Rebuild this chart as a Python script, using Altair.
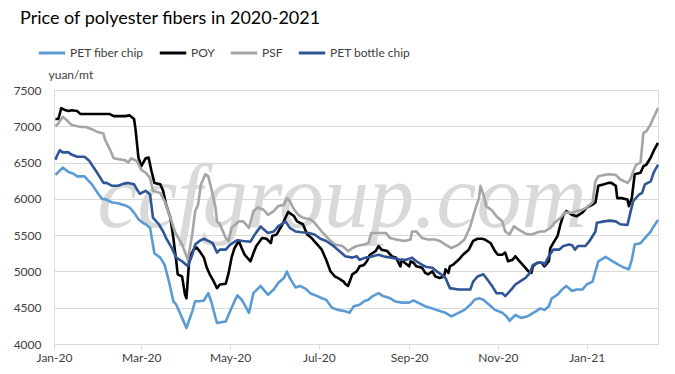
import altair as alt
import pandas as pd

# ---------------- data ----------------
series_names = ["PET fiber chip", "POY", "PSF", "PET bottle chip"]
series_colors = ["#5B9BD5", "#000000", "#A5A5A5", "#2F5597"]

fiber_dates = ["2020-01-02", "2020-01-04", "2020-01-07", "2020-01-11", "2020-01-14", "2020-01-17", "2020-01-22", "2020-01-27", "2020-01-31", "2020-02-03",
               "2020-02-06", "2020-02-10", "2020-02-14", "2020-02-19", "2020-02-22", "2020-02-25", "2020-02-28", "2020-03-02", "2020-03-04", "2020-03-07",
               "2020-03-10", "2020-03-14", "2020-03-17", "2020-03-20", "2020-03-23", "2020-03-25", "2020-03-29", "2020-04-01", "2020-04-05", "2020-04-07",
               "2020-04-10", "2020-04-13", "2020-04-16", "2020-04-18", "2020-04-21", "2020-04-22", "2020-04-28", "2020-05-01", "2020-05-04", "2020-05-06",
               "2020-05-09", "2020-05-11", "2020-05-14", "2020-05-17", "2020-05-22", "2020-05-24", "2020-05-27", "2020-05-31", "2020-06-03", "2020-06-07",
               "2020-06-09", "2020-06-11", "2020-06-15", "2020-06-18", "2020-06-22", "2020-06-25", "2020-06-30", "2020-07-03", "2020-07-06", "2020-07-10",
               "2020-07-14", "2020-07-19", "2020-07-22", "2020-07-25", "2020-07-29", "2020-08-01", "2020-08-04", "2020-08-07", "2020-08-11", "2020-08-14",
               "2020-08-19", "2020-08-22", "2020-08-27", "2020-09-01", "2020-09-04", "2020-09-07", "2020-09-12", "2020-09-17", "2020-09-21", "2020-09-26",
               "2020-09-30", "2020-10-05", "2020-10-09", "2020-10-13", "2020-10-16", "2020-10-19", "2020-10-22", "2020-10-26", "2020-10-30", "2020-11-04",
               "2020-11-07", "2020-11-09", "2020-11-13", "2020-11-17", "2020-11-21", "2020-11-23", "2020-11-27", "2020-11-30", "2020-12-03", "2020-12-06",
               "2020-12-08", "2020-12-12", "2020-12-15", "2020-12-18", "2020-12-22", "2020-12-25", "2020-12-29", "2021-01-01", "2021-01-05", "2021-01-07",
               "2021-01-09", "2021-01-14", "2021-01-18", "2021-01-23", "2021-01-27", "2021-01-30", "2021-02-01", "2021-02-03", "2021-02-07", "2021-02-10",
               "2021-02-14", "2021-02-16", "2021-02-19"]
fiber_values = [6330, 6370, 6430, 6370, 6350, 6310, 6310, 6200, 6080, 6000,
                5990, 5950, 5940, 5910, 5880, 5810, 5720, 5670, 5650, 5600,
                5250, 5190, 5090, 4860, 4590, 4540, 4360, 4220, 4450, 4590,
                4590, 4600, 4700, 4590, 4360, 4290, 4310, 4450, 4590, 4670,
                4610, 4540, 4430, 4700, 4800, 4750, 4680, 4750, 4840, 4910,
                5000, 4910, 4780, 4800, 4760, 4700, 4660, 4630, 4610, 4500,
                4470, 4450, 4430, 4520, 4540, 4590, 4610, 4660, 4700, 4660,
                4630, 4590, 4570, 4570, 4600, 4570, 4520, 4490, 4460, 4430,
                4380, 4430, 4470, 4540, 4610, 4630, 4610, 4540, 4470, 4430,
                4380, 4320, 4400, 4360, 4380, 4400, 4450, 4490, 4470, 4520,
                4630, 4680, 4750, 4800, 4730, 4750, 4750, 4820, 4860, 5000,
                5140, 5200, 5150, 5090, 5050, 5030, 5160, 5370, 5390, 5460,
                5550, 5620, 5710]

poy_dates = ["2020-01-02", "2020-01-04", "2020-01-06", "2020-01-09", "2020-01-11", "2020-01-13", "2020-01-17", "2020-01-19", "2020-02-08", "2020-02-11",
             "2020-02-19", "2020-02-22", "2020-02-25", "2020-02-26", "2020-02-28", "2020-03-01", "2020-03-04", "2020-03-06", "2020-03-08", "2020-03-10",
             "2020-03-14", "2020-03-16", "2020-03-18", "2020-03-21", "2020-03-23", "2020-03-25", "2020-03-26", "2020-03-29", "2020-03-31", "2020-04-01",
             "2020-04-02", "2020-04-03", "2020-04-06", "2020-04-08", "2020-04-10", "2020-04-13", "2020-04-15", "2020-04-17", "2020-04-19", "2020-04-22",
             "2020-04-24", "2020-04-28", "2020-04-30", "2020-05-02", "2020-05-04", "2020-05-07", "2020-05-09", "2020-05-11", "2020-05-15", "2020-05-17",
             "2020-05-19", "2020-05-23", "2020-05-26", "2020-05-29", "2020-05-30", "2020-06-02", "2020-06-06", "2020-06-08", "2020-06-10", "2020-06-14",
             "2020-06-16", "2020-06-20", "2020-06-23", "2020-06-26", "2020-06-30", "2020-07-03", "2020-07-06", "2020-07-09", "2020-07-12", "2020-07-14",
             "2020-07-18", "2020-07-19", "2020-07-21", "2020-07-24", "2020-07-27", "2020-07-29", "2020-08-01", "2020-08-03", "2020-08-05", "2020-08-09",
             "2020-08-11", "2020-08-13", "2020-08-17", "2020-08-20", "2020-08-23", "2020-08-26", "2020-08-27", "2020-08-29", "2020-09-01", "2020-09-02",
             "2020-09-04", "2020-09-06", "2020-09-10", "2020-09-12", "2020-09-14", "2020-09-17", "2020-09-19", "2020-09-22", "2020-09-25", "2020-09-26",
             "2020-09-28", "2020-09-29", "2020-10-01", "2020-10-05", "2020-10-08", "2020-10-12", "2020-10-15", "2020-10-18", "2020-10-21", "2020-10-23",
             "2020-10-27", "2020-10-30", "2020-11-01", "2020-11-04", "2020-11-06", "2020-11-08", "2020-11-11", "2020-11-13", "2020-11-15", "2020-11-19",
             "2020-11-22", "2020-11-24", "2020-11-25", "2020-11-28", "2020-12-01", "2020-12-03", "2020-12-06", "2020-12-07", "2020-12-09", "2020-12-12",
             "2020-12-14", "2020-12-16", "2020-12-18", "2020-12-22", "2020-12-25", "2020-12-29", "2021-01-01", "2021-01-05", "2021-01-07", "2021-01-09",
             "2021-01-13", "2021-01-16", "2021-01-18", "2021-01-21", "2021-01-22", "2021-01-25", "2021-01-29", "2021-01-30", "2021-02-01", "2021-02-03",
             "2021-02-07", "2021-02-09", "2021-02-11", "2021-02-14", "2021-02-16", "2021-02-19"]
poy_values = [7100, 7100, 7250, 7220, 7210, 7220, 7210, 7170, 7170, 7140,
              7140, 7150, 7100, 6960, 6570, 6450, 6560, 6570, 6380, 6220,
              6200, 6110, 5920, 5740, 5460, 5140, 4960, 4930, 4680, 4630,
              4910, 5190, 5300, 5330, 5280, 5190, 5050, 4960, 4890, 4770,
              4820, 4830, 4980, 5190, 5320, 5420, 5320, 5230, 5140, 5250,
              5350, 5460, 5450, 5390, 5490, 5510, 5650, 5740, 5820, 5760,
              5690, 5650, 5510, 5460, 5370, 5300, 5160, 5000, 4930, 4910,
              4860, 4830, 4800, 4960, 5000, 5070, 5090, 5140, 5230, 5280,
              5350, 5300, 5280, 5210, 5190, 5070, 5160, 5120, 5070, 5140,
              5120, 5070, 5050, 4980, 4960, 5000, 4930, 4910, 4930, 5030,
              4980, 5070, 5090, 5160, 5230, 5300, 5420, 5450, 5450, 5440,
              5390, 5280, 5230, 5230, 5260, 5140, 5160, 5210, 5160, 5070,
              5000, 4980, 5070, 5120, 5120, 5070, 5140, 5320, 5390, 5490,
              5650, 5780, 5830, 5780, 5760, 5810, 5880, 5920, 5950, 6180,
              6200, 6220, 6220, 6180, 6010, 6010, 5990, 5900, 6010, 6340,
              6360, 6450, 6470, 6570, 6660, 6770]

psf_dates = ["2020-01-02", "2020-01-04", "2020-01-07", "2020-01-10", "2020-01-13", "2020-01-17", "2020-01-20", "2020-01-23", "2020-01-27", "2020-01-31",
             "2020-02-04", "2020-02-05", "2020-02-08", "2020-02-11", "2020-02-19", "2020-02-21", "2020-02-23", "2020-02-27", "2020-03-01", "2020-03-04",
             "2020-03-07", "2020-03-09", "2020-03-14", "2020-03-17", "2020-03-21", "2020-03-24", "2020-03-29", "2020-04-02", "2020-04-05", "2020-04-07",
             "2020-04-09", "2020-04-11", "2020-04-14", "2020-04-16", "2020-04-18", "2020-04-21", "2020-04-22", "2020-04-24", "2020-04-28", "2020-04-30",
             "2020-05-02", "2020-05-07", "2020-05-10", "2020-05-14", "2020-05-17", "2020-05-20", "2020-05-24", "2020-05-27", "2020-05-31", "2020-06-03",
             "2020-06-07", "2020-06-09", "2020-06-11", "2020-06-14", "2020-06-17", "2020-06-20", "2020-06-25", "2020-06-28", "2020-07-03", "2020-07-08",
             "2020-07-12", "2020-07-17", "2020-07-19", "2020-07-21", "2020-07-24", "2020-07-27", "2020-08-01", "2020-08-04", "2020-08-06", "2020-08-11",
             "2020-08-16", "2020-08-19", "2020-08-23", "2020-08-29", "2020-09-02", "2020-09-03", "2020-09-06", "2020-09-10", "2020-09-14", "2020-09-19",
             "2020-09-22", "2020-09-26", "2020-09-30", "2020-10-05", "2020-10-09", "2020-10-13", "2020-10-16", "2020-10-19", "2020-10-20", "2020-10-22",
             "2020-10-24", "2020-10-28", "2020-10-31", "2020-11-04", "2020-11-06", "2020-11-09", "2020-11-12", "2020-11-15", "2020-11-20", "2020-11-24",
             "2020-11-27", "2020-11-30", "2020-12-03", "2020-12-07", "2020-12-10", "2020-12-14", "2020-12-17", "2020-12-22", "2020-12-25", "2020-12-29",
             "2021-01-01", "2021-01-05", "2021-01-07", "2021-01-09", "2021-01-13", "2021-01-16", "2021-01-21", "2021-01-24", "2021-01-29", "2021-01-31",
             "2021-02-02", "2021-02-04", "2021-02-07", "2021-02-09", "2021-02-11", "2021-02-14", "2021-02-16", "2021-02-19"]
psf_values = [7000, 7040, 7130, 7080, 7020, 7000, 6990, 6990, 6960, 6920,
              6900, 6820, 6700, 6560, 6530, 6500, 6560, 6520, 6400, 6360,
              6290, 6110, 6080, 5970, 5740, 5550, 5370, 5160, 5510, 5830,
              5920, 6200, 6340, 6310, 6150, 5880, 5690, 5650, 5460, 5420,
              5600, 5690, 5690, 5600, 5830, 5880, 5850, 5780, 5830, 5900,
              5920, 6010, 5970, 5850, 5780, 5740, 5720, 5670, 5550, 5440,
              5370, 5350, 5320, 5280, 5320, 5350, 5370, 5390, 5530, 5530,
              5530, 5460, 5440, 5420, 5440, 5550, 5550, 5460, 5440, 5440,
              5420, 5370, 5320, 5370, 5440, 5620, 5830, 6010, 6180, 6060,
              5900, 5840, 5760, 5690, 5550, 5510, 5620, 5580, 5520, 5510,
              5530, 5550, 5550, 5600, 5670, 5740, 5810, 5810, 5830, 5850,
              5880, 5950, 6240, 6310, 6330, 6340, 6330, 6270, 6220, 6270,
              6380, 6470, 6500, 6910, 6930, 7030, 7120, 7250]

bottle_dates = ["2020-01-02", "2020-01-03", "2020-01-05", "2020-01-07", "2020-01-11", "2020-01-13", "2020-01-17", "2020-01-22", "2020-01-25", "2020-01-28",
                "2020-01-31", "2020-02-04", "2020-02-06", "2020-02-10", "2020-02-14", "2020-02-18", "2020-02-21", "2020-02-25", "2020-02-27", "2020-02-29",
                "2020-03-04", "2020-03-07", "2020-03-09", "2020-03-13", "2020-03-16", "2020-03-18", "2020-03-22", "2020-03-25", "2020-03-29", "2020-04-02",
                "2020-04-05", "2020-04-07", "2020-04-10", "2020-04-13", "2020-04-16", "2020-04-19", "2020-04-22", "2020-04-24", "2020-04-28", "2020-05-01",
                "2020-05-06", "2020-05-10", "2020-05-15", "2020-05-18", "2020-05-22", "2020-05-24", "2020-05-27", "2020-05-31", "2020-06-03", "2020-06-06",
                "2020-06-08", "2020-06-11", "2020-06-15", "2020-06-19", "2020-06-24", "2020-06-28", "2020-07-02", "2020-07-06", "2020-07-11", "2020-07-14",
                "2020-07-18", "2020-07-19", "2020-07-24", "2020-07-27", "2020-07-29", "2020-08-02", "2020-08-05", "2020-08-11", "2020-08-16", "2020-08-20",
                "2020-08-26", "2020-08-30", "2020-09-03", "2020-09-06", "2020-09-10", "2020-09-13", "2020-09-17", "2020-09-20", "2020-09-23", "2020-09-26",
                "2020-09-29", "2020-10-05", "2020-10-13", "2020-10-15", "2020-10-18", "2020-10-22", "2020-10-24", "2020-10-28", "2020-10-31", "2020-11-04",
                "2020-11-06", "2020-11-08", "2020-11-11", "2020-11-13", "2020-11-16", "2020-11-20", "2020-11-23", "2020-11-25", "2020-11-29", "2020-12-02",
                "2020-12-03", "2020-12-06", "2020-12-09", "2020-12-13", "2020-12-16", "2020-12-20", "2020-12-22", "2020-12-24", "2020-12-26", "2020-12-31",
                "2021-01-03", "2021-01-07", "2021-01-08", "2021-01-13", "2021-01-17", "2021-01-21", "2021-01-24", "2021-01-29", "2021-01-31", "2021-02-02",
                "2021-02-06", "2021-02-08", "2021-02-10", "2021-02-14", "2021-02-16", "2021-02-19"]
bottle_values = [6540, 6590, 6670, 6640, 6640, 6610, 6580, 6580, 6530, 6440,
                 6350, 6220, 6220, 6180, 6180, 6210, 6220, 6200, 6130, 6070,
                 6110, 6060, 5740, 5650, 5550, 5460, 5320, 5190, 5140, 5070,
                 5230, 5370, 5420, 5450, 5420, 5390, 5260, 5300, 5300, 5370,
                 5430, 5420, 5410, 5510, 5620, 5580, 5530, 5550, 5620, 5660,
                 5690, 5600, 5550, 5540, 5530, 5510, 5450, 5420, 5350, 5300,
                 5230, 5210, 5190, 5210, 5160, 5190, 5200, 5230, 5200, 5190,
                 5160, 5160, 5190, 5140, 5090, 5060, 5050, 5000, 4960, 4910,
                 4770, 4750, 4750, 4860, 4930, 4960, 4910, 4800, 4700, 4700,
                 4660, 4700, 4770, 4820, 4860, 4910, 4980, 5090, 5120, 5120,
                 5090, 5210, 5300, 5300, 5350, 5370, 5360, 5300, 5350, 5350,
                 5420, 5550, 5670, 5690, 5700, 5690, 5650, 5640, 5810, 5970,
                 6060, 6080, 6200, 6240, 6360, 6470]

y_ticks = [4000, 4500, 5000, 5500, 6000, 6500, 7000, 7500]
x_tick_months = [(2020, 1), (2020, 3), (2020, 5), (2020, 7), (2020, 9), (2020, 11), (2021, 1)]

title_text = "Price of polyester fibers in 2020-2021"
unit_text = "yuan/mt"
watermark_text = "ccfgroup.com"

# ---------------- build table ----------------
frames = []
for i, (name, d, v) in enumerate(zip(series_names,
                                     [fiber_dates, poy_dates, psf_dates, bottle_dates],
                                     [fiber_values, poy_values, psf_values, bottle_values])):
    frames.append(pd.DataFrame({"date": d, "price": v, "series": name, "k": i}))
df = pd.concat(frames, ignore_index=True)

FONT = "Lato"
TXT = "#404040"

x_values = [alt.DateTime(year=y, month=m, date=1, utc=True) for y, m in x_tick_months]
x_scale = alt.Scale(type="utc",
                    domain=[alt.DateTime(year=2020, month=1, date=1, utc=True),
                            alt.DateTime(year=2021, month=2, date=19, utc=True)])
y_scale = alt.Scale(domain=[4000, 7500], nice=False, zero=False)

lines = alt.Chart(df).mark_line(strokeWidth=2.6, strokeJoin="round").encode(
    x=alt.X("date:T", scale=x_scale,
            axis=alt.Axis(values=x_values, format="%b-%y", title=None, grid=False,
                          domainColor="#d9d9d9", tickColor="#d9d9d9", tickSize=5,
                          labelPadding=3, labelFont=FONT, labelFontSize=12,
                          labelColor=TXT, labelFlush=False, labelOverlap=False)),
    y=alt.Y("price:Q", scale=y_scale,
            axis=alt.Axis(values=y_ticks, format="d", grid=True, gridColor="#d9d9d9", domain=False,
                          ticks=False, labelPadding=13, labelFont=FONT, labelFontSize=12,
                          labelColor=TXT, title=unit_text, titleAngle=0,
                          titleAlign="left", titleBaseline="alphabetic", titleX=-6, titleY=-12,
                          titleFont=FONT, titleFontSize=12, titleFontWeight="normal",
                          titleColor=TXT)),
    color=alt.Color("series:N",
                    scale=alt.Scale(domain=series_names, range=series_colors),
                    legend=alt.Legend(title=None, orient="none", direction="horizontal",
                                      legendX=-17, legendY=-52, symbolType="stroke",
                                      symbolSize=700, symbolStrokeWidth=3, labelFont=FONT,
                                      labelFontSize=12, labelColor=TXT,
                                      labelOffset=3, columnPadding=9)),
    order=alt.Order("k:Q"),
    detail="series:N",
)

wm = alt.Chart(pd.DataFrame({"t": [watermark_text]})).mark_text(
    font="Liberation Serif", fontStyle="italic", fontSize=90, color="#d9d9d9",
    align="center", baseline="alphabetic"
).encode(text="t:N", x=alt.value(288), y=alt.value(137))

chart = alt.layer(wm, lines).properties(
    width=604, height=254,
    title=alt.TitleParams(title_text, anchor="start", frame="group", font=FONT,
                          fontSize=18, fontWeight="normal", color="#000000", dx=-34, offset=10),
    autosize=alt.AutoSizeParams(type="none"),
    padding={"left": 46, "top": 82, "right": 9, "bottom": 22},
).configure_view(stroke=None).configure(background="white")

chart.save("out.html", embed_options={"renderer": "svg", "actions": False})
